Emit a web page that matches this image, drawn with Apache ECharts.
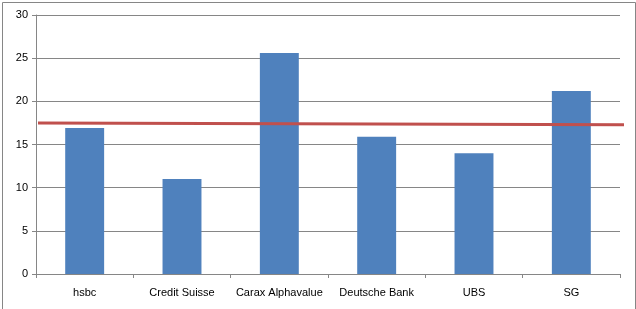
<!DOCTYPE html>
<html><head><meta charset="utf-8">
<script src="https://cdn.jsdelivr.net/npm/echarts@6/dist/echarts.min.js"></script>
<style>html,body{margin:0;padding:0;background:#fff}#c{width:636px;height:309px}</style>
</head><body><div id="c"></div>
<script>
var categories = ["hsbc", "Credit Suisse", "Carax Alphavalue", "Deutsche Bank", "UBS", "SG"];
var barValues = [16.9, 11, 25.6, 15.9, 14, 21.2];
var lineEnds = ["start", "end"];
var lineValues = [17.5, 17.3];
var yTicks = {min: 0, max: 30, interval: 5};

var chart = echarts.init(document.getElementById('c'));
var font = '"Liberation Sans", "DejaVu Sans", sans-serif';
chart.setOption({
  animation: false,
  backgroundColor: '#fff',
  grid: [
    {left: 36, right: 16, top: 15, bottom: 35},
    {left: 38, right: 12, top: 15, bottom: 35}
  ],
  xAxis: [
    {type: 'category', gridIndex: 0, data: categories, boundaryGap: true,
     axisLine: {lineStyle: {color: '#868686', width: 1}},
     axisTick: {show: true, length: 4, lineStyle: {color: '#868686'}},
     axisLabel: {color: '#000', fontFamily: font, fontSize: 11, margin: 13, interval: 0}},
    {type: 'category', gridIndex: 1, data: lineEnds, boundaryGap: false, show: false}
  ],
  yAxis: [
    {type: 'value', gridIndex: 0, min: yTicks.min, max: yTicks.max, interval: yTicks.interval,
     axisLine: {show: true, lineStyle: {color: '#868686', width: 1}},
     axisTick: {show: true, length: 4, lineStyle: {color: '#868686'}},
     splitLine: {lineStyle: {color: '#868686', width: 1}},
     axisLabel: {color: '#000', fontFamily: font, fontSize: 11, margin: 8}},
    {type: 'value', gridIndex: 1, min: yTicks.min, max: yTicks.max, show: false, splitLine: {show: false}}
  ],
  series: [
    {type: 'bar', xAxisIndex: 0, yAxisIndex: 0, data: barValues, barWidth: '40%',
     itemStyle: {color: '#4F81BD'}},
    {type: 'line', xAxisIndex: 1, yAxisIndex: 1, data: lineValues, showSymbol: false,
     lineStyle: {color: '#C0504D', width: 3}, z: 5}
  ],
  graphic: [
    {type: 'rect', left: 0, top: 0, shape: {x: 0.5, y: 0.5, width: 633, height: 307},
     style: {fill: 'none', stroke: '#868686', lineWidth: 1}, silent: true}
  ]
});
</script></body></html>
